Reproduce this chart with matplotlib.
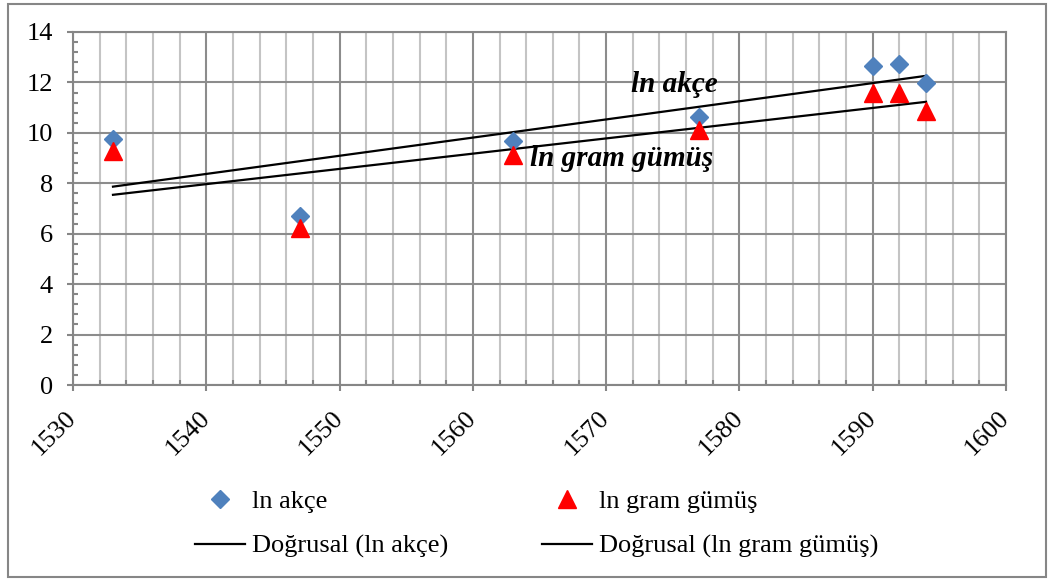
import matplotlib.pyplot as plt
import numpy as np
from matplotlib.patches import Rectangle
from matplotlib.ticker import MultipleLocator

plt.rcParams['font.family'] = ['Liberation Serif', 'DejaVu Serif']

# data
years = [1533, 1547, 1563, 1577, 1590, 1592, 1594]
ln_akce = [9.76, 6.71, 9.68, 10.63, 12.66, 12.74, 11.98]
ln_gumus = [9.29, 6.23, 9.13, 10.12, 11.59, 11.59, 10.87]

fig = plt.figure(figsize=(10.5, 5.81), dpi=100)
ax = fig.add_axes([73 / 1050, 1 - 385 / 581, 933 / 1050, 353 / 581])

# linear trendlines (Excel "Doğrusal"), drawn over the data range
x = np.array(years, dtype=float)
xs = np.array([x.min(), x.max()])
p1 = np.polyfit(x, ln_akce, 1)
p2 = np.polyfit(x, ln_gumus, 1)
ax.plot(xs, np.polyval(p1, xs), color='black', lw=1.6, label='Doğrusal (ln akçe)', zorder=3)
ax.plot(xs, np.polyval(p2, xs), color='black', lw=1.6, label='Doğrusal (ln gram gümüş)', zorder=3)

ax.plot(years, ln_akce, 'D', color='#4f81bd', ms=9, ls='none', label='ln akçe', zorder=4)
ax.plot(years, ln_gumus, '^', color='#ff0000', ms=13, ls='none', label='ln gram gümüş', zorder=4)

ax.set_xlim(1530, 1600)
ax.set_ylim(0, 14)
ax.xaxis.set_major_locator(MultipleLocator(10))
ax.xaxis.set_minor_locator(MultipleLocator(2))
ax.yaxis.set_major_locator(MultipleLocator(2))
ax.yaxis.set_minor_locator(MultipleLocator(0.4))

ax.grid(which='major', color='#8c8c8c', lw=1.5, zorder=0)
ax.grid(which='minor', axis='x', color='#c4c4c4', lw=1.5, zorder=0)
ax.set_axisbelow(True)
for s in ax.spines.values():
    s.set_color('#868686')
    s.set_linewidth(1.5)

ax.tick_params(which='major', axis='both', color='#868686', width=1.5, length=4.5,
               labelsize=19)
ax.tick_params(which='minor', axis='both', color='#868686', width=1.5, length=3.5,
               direction='in')
ax.tick_params(axis='y', pad=10)
ax.tick_params(axis='x', pad=17)
for lbl in ax.get_xticklabels():
    lbl.set_rotation(45)
    lbl.set_ha('right')
    lbl.set_va('center')
    lbl.set_rotation_mode('anchor')

ax.text(1571.9, 11.9, 'ln akçe', fontsize=21, fontweight='bold', fontstyle='italic',
        ha='left', va='center')
ax.text(1564.3, 9.0, 'ln gram gümüş', fontsize=21, fontweight='bold', fontstyle='italic',
        ha='left', va='center')

h, l = ax.get_legend_handles_labels()
order = [2, 0, 3, 1]
fig.legend([h[i] for i in order], [l[i] for i in order], ncol=2, frameon=False,
           loc='center left', bbox_to_anchor=(195 / 1050, 1 - 524 / 581),
           fontsize=19, handlelength=1.9, handletextpad=0.27, columnspacing=3.55,
           labelspacing=0.8, borderpad=0, borderaxespad=0)

fig.patches.append(Rectangle((8 / 1050, 4 / 581), 1038 / 1050, 573 / 581,
                             transform=fig.transFigure, fill=False,
                             edgecolor='#868686', lw=1.5))

fig.savefig('out.png', dpi=100)
